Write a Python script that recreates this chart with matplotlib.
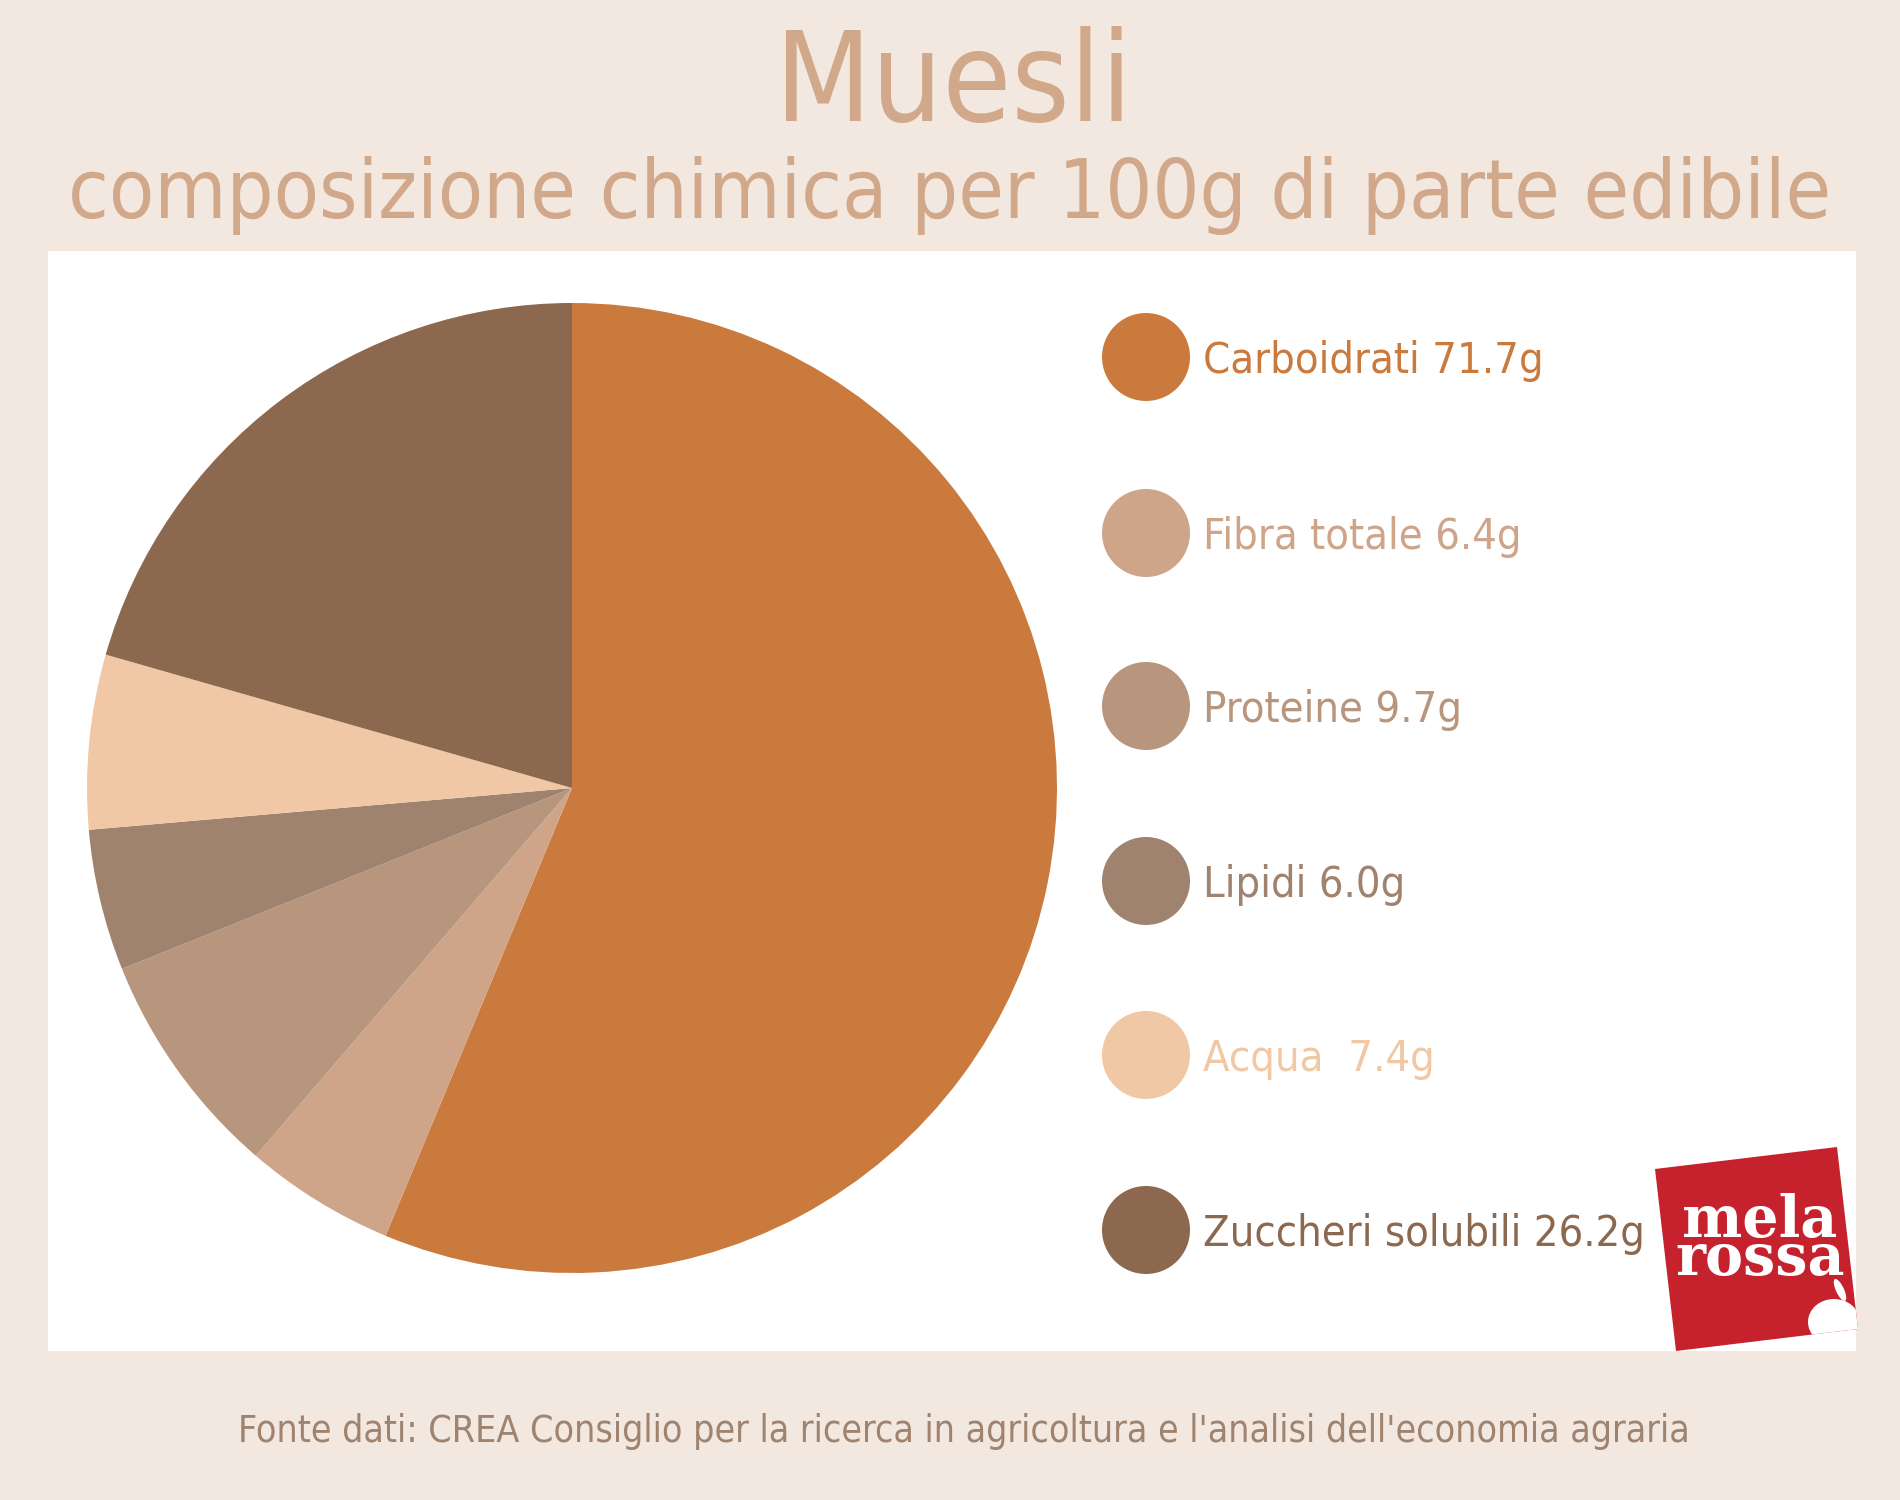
import matplotlib
matplotlib.use("Agg")
import matplotlib.pyplot as plt
from matplotlib.patches import Circle, Polygon, Rectangle, Ellipse

# data
labels = ["Carboidrati", "Fibra totale", "Proteine", "Lipidi", "Acqua", "Zuccheri solubili"]
values = [71.7, 6.4, 9.7, 6.0, 7.4, 26.2]
legend_texts = ["Carboidrati 71.7g", "Fibra totale 6.4g", "Proteine 9.7g",
                "Lipidi 6.0g", "Acqua  7.4g", "Zuccheri solubili 26.2g"]
colors = ["#CB7A3E", "#CFA58A", "#B8957D", "#A0836E", "#F0C8A5", "#8C694E"]

title = "Muesli"
subtitle = "composizione chimica per 100g di parte edibile"
source = "Fonte dati: CREA Consiglio per la ricerca in agricoltura e l'analisi dell'economia agraria"

W, H = 1900, 1500
BG = "#F2E8E0"
TITLE_COLOR = "#D2A88A"
SOURCE_COLOR = "#A0836E"
FONT = ["DejaVu Sans"]
STRETCH = "condensed"

fig = plt.figure(figsize=(W / 100, H / 100), dpi=100, facecolor=BG)

# overlay axes in pixel coordinates (y down)
ax = fig.add_axes([0, 0, 1, 1])
ax.set_xlim(0, W)
ax.set_ylim(H, 0)
ax.set_aspect("equal")
ax.axis("off")

# white panel
ax.add_patch(Rectangle((48, 251), 1808, 1100, facecolor="white", edgecolor="none", zorder=0))

# pie axes
cx, cy, r = 572, 788, 485
pax = fig.add_axes([(cx - r) / W, 1 - (cy + r) / H, 2 * r / W, 2 * r / H])
pax.pie(values, colors=colors, startangle=90, counterclock=False,
        wedgeprops=dict(linewidth=0))
pax.set_xlim(-1, 1)
pax.set_ylim(-1, 1)
pax.axis("off")

renderer = fig.canvas.get_renderer()


def fit_width(t, target):
    bb = t.get_window_extent(renderer)
    t.set_fontsize(t.get_fontsize() * target / bb.width)


# titles
t1 = ax.text(954, 121, title, ha="center", va="baseline", color=TITLE_COLOR,
             fontsize=100, family=FONT, fontstretch=STRETCH)
fit_width(t1, 357)
t2 = ax.text(950, 218, subtitle, ha="center", va="baseline", color=TITLE_COLOR,
             fontsize=70, family=FONT, fontstretch=STRETCH)
fit_width(t2, 1761)

# legend
leg_y = [357, 533, 706, 881, 1055, 1230]
leg_texts = []
for y, txt, c in zip(leg_y, legend_texts, colors):
    ax.add_patch(Circle((1146, y), 44, facecolor=c, edgecolor="none"))
    leg_texts.append(ax.text(1203, y + 16, txt, ha="left", va="baseline", color=c,
                             fontsize=40, family=FONT, fontstretch=STRETCH))
bb = leg_texts[-1].get_window_extent(renderer)
fs = 40 * 442 / bb.width
for t in leg_texts:
    t.set_fontsize(fs)

# logo
logo = Polygon([(1655, 1169), (1837, 1147), (1858, 1329), (1676, 1351)],
               closed=True, facecolor="#C5222E", edgecolor="none", zorder=3)
ax.add_patch(logo)
ax.text(1760, 1240, "mela\nrossa", ha="center", va="center", multialignment="center",
        color="white", fontsize=41, fontweight="heavy", family="DejaVu Serif",
        linespacing=0.6, zorder=4)
apple = Ellipse((1834, 1322), 52, 46, facecolor="white", edgecolor="none", zorder=4)
ax.add_patch(apple)
apple.set_clip_path(logo)
leaf = Ellipse((1840, 1290), 8, 24, angle=-25, facecolor="white", edgecolor="none", zorder=4)
ax.add_patch(leaf)
leaf.set_clip_path(logo)

# source
t3 = ax.text(964, 1442, source, ha="center", va="baseline", color=SOURCE_COLOR,
             fontsize=30, family=FONT, fontstretch=STRETCH)
fit_width(t3, 1456)

fig.savefig("out.png", dpi=100, facecolor=BG)
